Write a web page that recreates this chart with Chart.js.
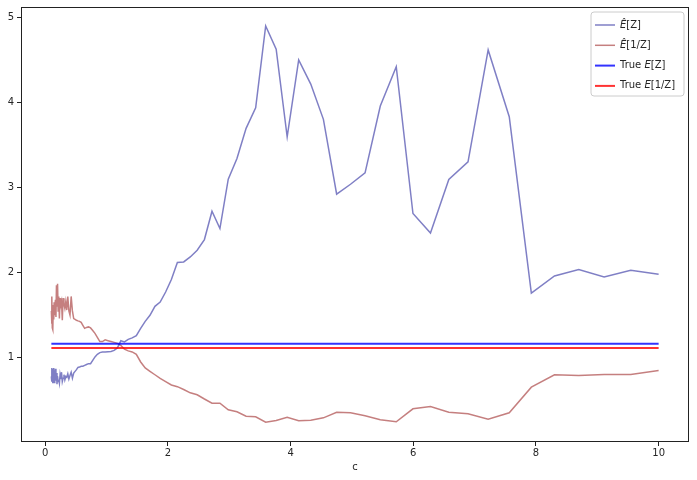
<!DOCTYPE html>
<html><head><meta charset="utf-8">
<script src="https://cdn.jsdelivr.net/npm/chart.js@4.4.1/dist/chart.umd.min.js"></script>
<style>html,body{margin:0;padding:0;background:#fff}canvas{display:block}</style>
</head><body>
<canvas id="c" width="697" height="480"></canvas>
<script>
const cValues = [0.1000,0.1048,0.1098,0.1150,0.1205,0.1262,0.1322,0.1385,0.1451,0.1520,
0.1592,0.1668,0.1748,0.1831,0.1918,0.2009,0.2105,0.2205,0.2310,0.2420,
0.2535,0.2656,0.2783,0.2915,0.3054,0.3199,0.3352,0.3511,0.3678,0.3854,
0.4037,0.4229,0.4431,0.4642,0.4863,0.5094,0.5337,0.5591,0.5857,0.6136,
0.6428,0.6734,0.7055,0.7391,0.7743,0.8111,0.8498,0.8902,0.9326,0.9770,
1.0235,1.0723,1.1233,1.1768,1.2328,1.2915,1.3530,1.4175,1.4850,1.5557,
1.6298,1.7074,1.7886,1.8738,1.9630,2.0565,2.1544,2.2570,2.3645,2.4771,
2.5950,2.7186,2.8480,2.9836,3.1257,3.2745,3.4305,3.5938,3.7649,3.9442,
4.1320,4.3288,4.5349,4.7508,4.9770,5.2140,5.4623,5.7224,5.9948,6.2803,
6.5793,6.8926,7.2208,7.5646,7.9248,8.3022,8.6975,9.1116,9.5455,10.0000];

const estZ = [0.78,0.88,0.72,0.87,0.70,0.86,0.74,0.88,0.71,0.85,
0.76,0.87,0.73,0.82,0.69,0.78,0.72,0.74,0.70,0.80,
0.75,0.83,0.72,0.76,0.80,0.74,0.78,0.77,0.81,0.75,
0.79,0.83,0.76,0.82,0.84,0.86,0.886,0.89,0.90,0.90,
0.91,0.92,0.93,0.93,0.97,1.01,1.04,1.06,1.066,1.066,
1.07,1.074,1.086,1.115,1.20,1.186,1.215,1.233,1.26,1.345,
1.427,1.498,1.604,1.654,1.772,1.918,2.118,2.125,2.184,2.262,
2.388,2.721,2.518,3.098,3.341,3.694,3.936,4.898,4.624,3.595,
4.498,4.215,3.80,2.921,3.038,3.172,3.956,4.419,2.694,2.466,
3.094,3.301,4.615,3.831,1.76,1.96,2.035,1.948,2.027,1.98];

const estInvZ = [1.55,1.40,1.72,1.35,1.58,1.33,1.62,1.45,1.65,1.50,
1.60,1.68,1.48,1.85,1.60,1.87,1.55,1.72,1.46,1.70,
1.62,1.66,1.44,1.70,1.63,1.58,1.66,1.56,1.72,1.55,
1.50,1.72,1.55,1.46,1.45,1.44,1.433,1.427,1.415,1.38,
1.345,1.356,1.362,1.35,1.32,1.286,1.24,1.19,1.19,1.21,
1.20,1.19,1.18,1.168,1.145,1.10,1.08,1.068,1.04,0.95,
0.88,0.84,0.80,0.757,0.72,0.68,0.66,0.627,0.588,0.565,
0.515,0.466,0.466,0.388,0.365,0.313,0.306,0.242,0.262,0.301,
0.259,0.266,0.294,0.36,0.353,0.318,0.271,0.247,0.40,0.427,
0.36,0.341,0.278,0.353,0.654,0.80,0.792,0.804,0.804,0.85];

const trueZ = 1.165;
const trueInvZ = 1.113;

const xTicks = [0, 2, 4, 6, 8, 10];
const yTicks = [1, 2, 3, 4, 5];
const seriesLabels = ['Ê[Z]', 'Ê[1/Z]', 'True E[Z]', 'True E[1/Z]'];
const xLabel = 'c';

const pts = (ys) => cValues.map((x, i) => ({x: x, y: ys[i]}));
const flat = (v) => [{x: cValues[0], y: v}, {x: cValues[cValues.length - 1], y: v}];

const FONT = "'DejaVu Sans', sans-serif";
const TXT = '#262626';

const framePlugin = {
  id: 'frame',
  afterDatasetsDraw(chart) {
    const {ctx, chartArea: a} = chart;
    ctx.save();
    ctx.strokeStyle = '#222';
    ctx.lineWidth = 1;
    ctx.strokeRect(Math.round(a.left) + 0.5, Math.round(a.top) + 0.5,
      Math.round(a.right - a.left) - 1, Math.round(a.bottom - a.top) - 1);
    ctx.restore();
  }
};

const legendPlugin = {
  id: 'boxLegend',
  afterDraw(chart) {
    const {ctx, chartArea: a} = chart;
    const w = 93, h = 84;
    const x = a.right - 5 - w, y = a.top + 5;
    ctx.save();
    ctx.beginPath();
    const r = 3;
    ctx.moveTo(x + r, y);
    ctx.arcTo(x + w, y, x + w, y + h, r);
    ctx.arcTo(x + w, y + h, x, y + h, r);
    ctx.arcTo(x, y + h, x, y, r);
    ctx.arcTo(x, y, x + w, y, r);
    ctx.closePath();
    ctx.fillStyle = 'rgba(255,255,255,0.8)';
    ctx.fill();
    ctx.strokeStyle = '#cccccc';
    ctx.lineWidth = 1;
    ctx.stroke();
    chart.data.datasets.forEach((ds, i) => {
      const cy = y + 13 + i * 20.3;
      ctx.beginPath();
      ctx.strokeStyle = ds.borderColor;
      ctx.lineWidth = ds.borderWidth;
      ctx.moveTo(x + 4, cy);
      ctx.lineTo(x + 24, cy);
      ctx.stroke();
      const label = ds.label;
      let k = label.search(/[ÊE]/);
      let tx = x + 29;
      ctx.fillStyle = TXT;
      ctx.textBaseline = 'middle';
      const pre = label.slice(0, k), e = label[k], rest = label.slice(k + 1);
      ctx.font = '10px ' + FONT;
      ctx.fillText(pre, tx, cy); tx += ctx.measureText(pre).width;
      ctx.font = 'italic 10px ' + FONT;
      ctx.fillText(e, tx, cy); tx += ctx.measureText(e).width;
      ctx.font = '10px ' + FONT;
      ctx.fillText(rest, tx, cy);
    });
    ctx.restore();
  }
};

new Chart(document.getElementById('c'), {
  type: 'line',
  data: {
    datasets: [
      {label: seriesLabels[0], data: pts(estZ), borderColor: 'rgba(0,0,139,0.5)', borderWidth: 1.5, order: 2},
      {label: seriesLabels[1], data: pts(estInvZ), borderColor: 'rgba(139,0,0,0.5)', borderWidth: 1.5, order: 3},
      {label: seriesLabels[2], data: flat(trueZ), borderColor: 'rgba(0,0,255,0.8)', borderWidth: 2, order: 0},
      {label: seriesLabels[3], data: flat(trueInvZ), borderColor: 'rgba(255,0,0,0.8)', borderWidth: 2, order: 1}
    ].map(d => Object.assign(d, {pointRadius: 0, tension: 0, fill: false, backgroundColor: 'transparent'}))
  },
  options: {
    responsive: false,
    animation: false,
    events: [],
    layout: {padding: {top: 7, right: 8, left: 0, bottom: 0}},
    plugins: {legend: {display: false}, tooltip: {enabled: false}},
    scales: {
      x: {
        type: 'linear', min: -0.395, max: 10.495,
        afterBuildTicks: s => { s.ticks = xTicks.map(v => ({value: v})); },
        afterFit: s => { s.height = 38; s.paddingLeft = 0; s.paddingRight = 0; },
        grid: {drawOnChartArea: false, drawTicks: true, tickLength: 4, color: '#222'},
        border: {display: false},
        ticks: {padding: 1, color: TXT, font: {family: FONT, size: 10}, maxRotation: 0},
        title: {display: true, text: xLabel, color: TXT, font: {family: FONT, size: 10}, padding: {top: 2, bottom: 7}}
      },
      y: {
        type: 'linear', min: 0.01, max: 5.12,
        afterBuildTicks: s => { s.ticks = yTicks.map(v => ({value: v})); },
        afterFit: s => { s.width = 21; s.paddingTop = 0; s.paddingBottom = 0; },
        grid: {drawOnChartArea: false, drawTicks: true, tickLength: 4, color: '#222'},
        border: {display: false},
        ticks: {padding: 3, color: TXT, font: {family: FONT, size: 10}}
      }
    }
  },
  plugins: [framePlugin, legendPlugin]
});
</script>
</body></html>
